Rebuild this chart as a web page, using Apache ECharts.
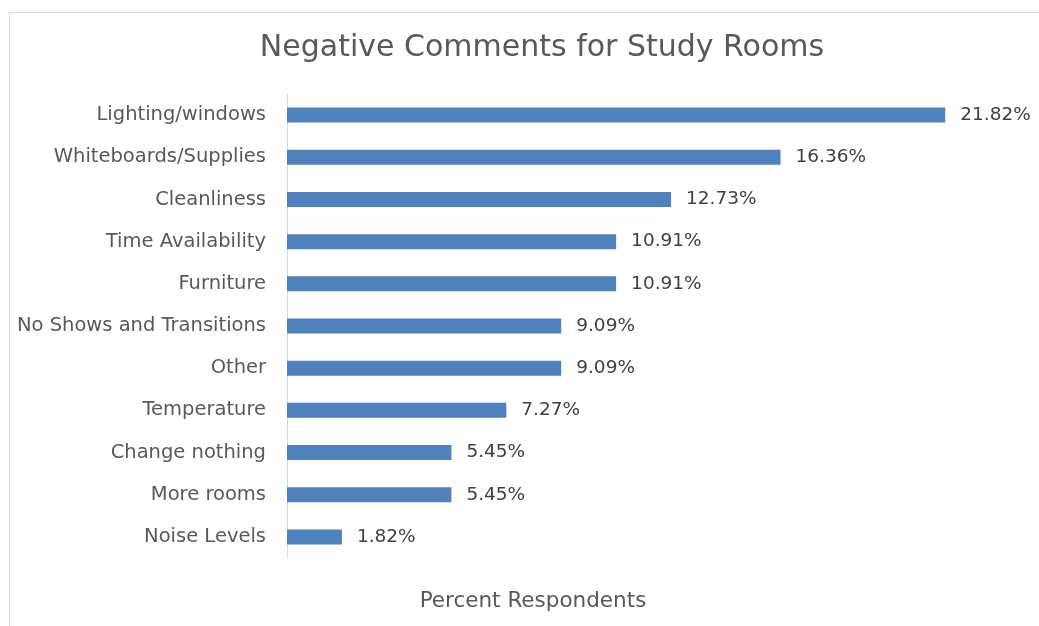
<!DOCTYPE html>
<html><head><meta charset="utf-8">
<script src="https://cdn.jsdelivr.net/npm/echarts@6/dist/echarts.min.js"></script>
<style>html,body{margin:0;padding:0;background:#fff}#c{width:1039px;height:626px}</style>
</head><body><div id="c"></div>
<script>
const categories = ["Lighting/windows","Whiteboards/Supplies","Cleanliness","Time Availability","Furniture","No Shows and Transitions","Other","Temperature","Change nothing","More rooms","Noise Levels"];
const values = [21.82,16.36,12.73,10.91,10.91,9.09,9.09,7.27,5.45,5.45,1.82];
const titleText = "Negative Comments for Study Rooms";
const axisTitle = "Percent Respondents";

const chart = echarts.init(document.getElementById('c'), null, {renderer:'canvas'});
const font = '"DejaVu Sans", sans-serif';
chart.setOption({
  animation:false,
  backgroundColor:'#fff',
  title:{text:titleText,left:537,textAlign:'center',top:28,textStyle:{fontFamily:font,fontSize:30,fontWeight:'normal',color:'#595959'}},
  grid:{left:287,right:28,top:94,bottom:68,containLabel:false},
  xAxis:{type:'value',min:0,max:24,show:false},
  yAxis:{type:'category',data:categories,inverse:true,
    axisLine:{show:true,lineStyle:{color:'#d9d9d9',width:1}},
    axisTick:{show:false},
    axisLabel:{margin:21,fontFamily:font,fontSize:19.5,color:'#595959'}},
  series:[{type:'bar',data:values,barWidth:15,itemStyle:{color:'#4f81bd'},
    label:{show:true,position:'right',distance:15,fontFamily:font,fontSize:18.5,color:'#404040',
      formatter:p=>p.value.toFixed(2)+'%'}}],
  graphic:[
    {type:'rect',shape:{x:9.5,y:12.5,width:1100,height:700},style:{fill:'none',stroke:'#d9d9d9',lineWidth:1},silent:true,z:-1},
    {type:'text',x:533,y:601,style:{text:axisTitle,fontFamily:font,fontSize:21.5,fill:'#595959',align:'center',verticalAlign:'middle'}}
  ]
});
</script></body></html>
